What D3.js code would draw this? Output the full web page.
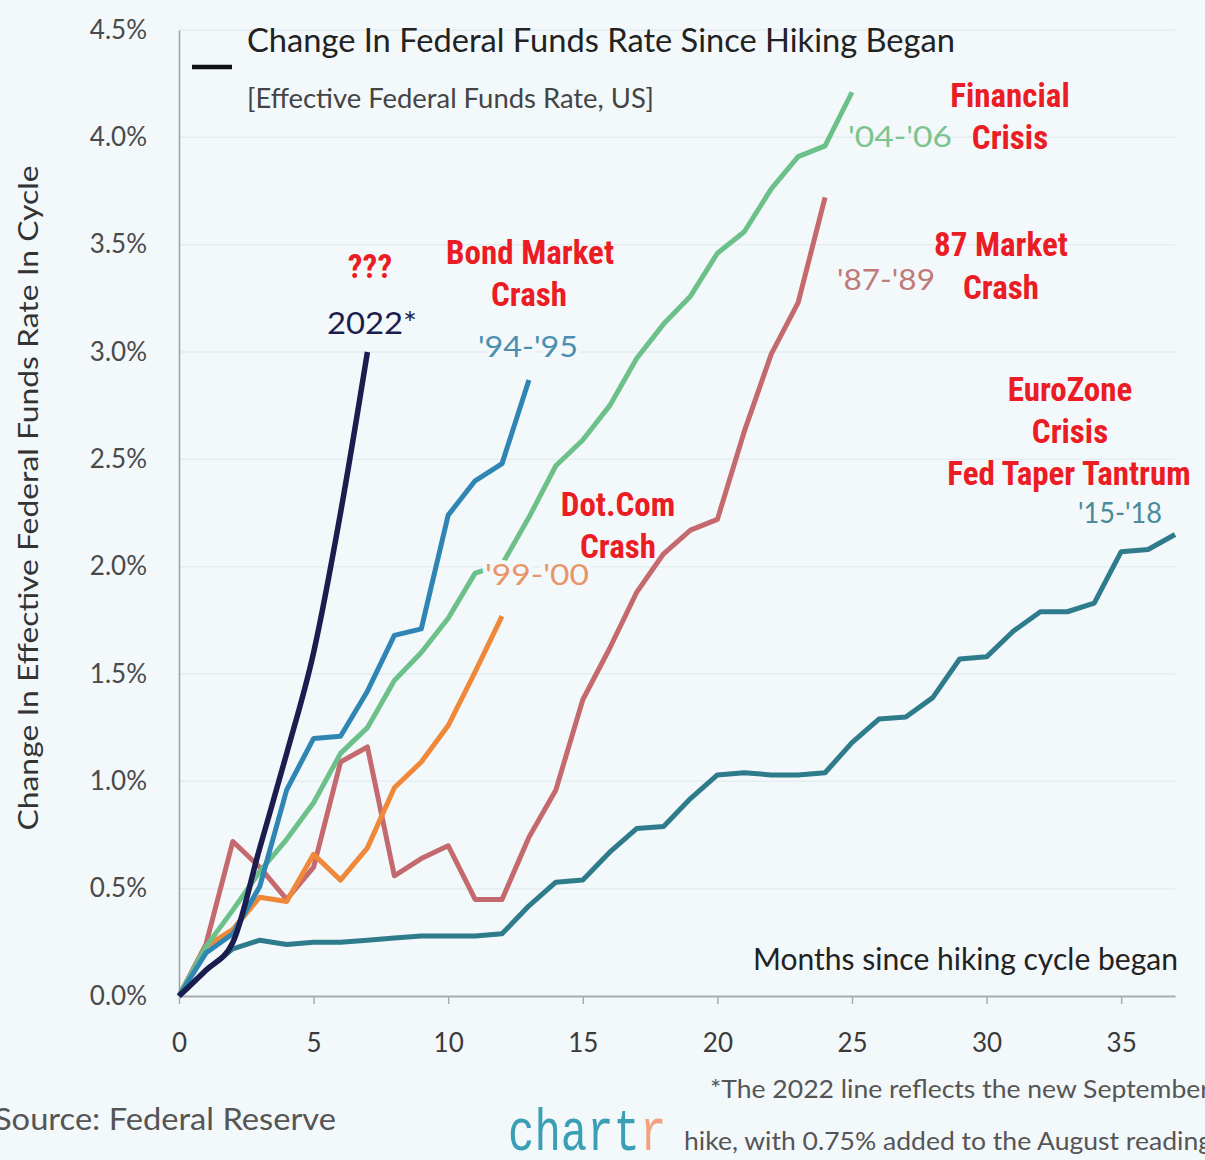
<!DOCTYPE html>
<html>
<head>
<meta charset="utf-8">
<script src="https://cdn.jsdelivr.net/npm/d3@7"></script>
<style>
  html, body { margin: 0; padding: 0; background: #f3f8fb; }
  svg { display: block; }
</style>
</head>
<body>
<svg id="chart"></svg>
<script>
// months since the first hike, 0..n
var rate2022 = [0, 0.12, 0.25, 0.69, 1.13, 1.60, 2.25, 3.00];
var rate9495 = [0, 0.20, 0.29, 0.51, 0.96, 1.20, 1.21, 1.42, 1.68, 1.71, 2.24, 2.40, 2.48, 2.87];
var rate0406 = [0, 0.23, 0.40, 0.58, 0.73, 0.90, 1.13, 1.25, 1.47, 1.60, 1.76, 1.97, 2.01,
                2.23, 2.47, 2.59, 2.75, 2.97, 3.13, 3.26, 3.46, 3.56, 3.76, 3.91, 3.96, 4.21];
var rate9900 = [0, 0.23, 0.31, 0.46, 0.44, 0.66, 0.54, 0.69, 0.97, 1.09, 1.26, 1.51, 1.77];
var rate8789 = [0, 0.24, 0.72, 0.60, 0.45, 0.60, 1.09, 1.16, 0.56, 0.64, 0.70, 0.45, 0.45,
                0.74, 0.96, 1.38, 1.62, 1.88, 2.06, 2.17, 2.22, 2.63, 2.99, 3.23, 3.72];
var rate1518 = [0, 0.12, 0.22, 0.26, 0.24, 0.25, 0.25, 0.26, 0.27, 0.28, 0.28, 0.28, 0.29,
                0.42, 0.53, 0.54, 0.67, 0.78, 0.79, 0.92, 1.03, 1.04, 1.03, 1.03, 1.04, 1.18,
                1.29, 1.30, 1.39, 1.57, 1.58, 1.70, 1.79, 1.79, 1.83, 2.07, 2.08, 2.15];

var xTicks = [0, 5, 10, 15, 20, 25, 30, 35];
var yTicks = [0, 0.5, 1, 1.5, 2, 2.5, 3, 3.5, 4, 4.5];

var width = 1205, height = 1160;
var font = "Lato, 'Open Sans', sans-serif";
var narrow = "'Liberation Sans Narrow', 'Roboto Condensed', 'Liberation Sans', sans-serif";
var red = "#ec1c24";

var svg = d3.select('#chart')
            .attr('width', width)
            .attr('height', height)
            .style('background', '#f3f8fb');

var xScale = d3.scaleLinear().domain([0, 37]).range([179, 1175]);
var yScale = d3.scaleLinear().domain([0, 4.5]).range([996, 30]);

// faint gridlines
svg.append('g')
   .selectAll('line')
   .data(yTicks.slice(1))
   .enter().append('line')
   .attr('x1', xScale(0)).attr('x2', xScale(37))
   .attr('y1', function(d){ return yScale(d); })
   .attr('y2', function(d){ return yScale(d); })
   .attr('stroke', '#e4edf2')
   .attr('stroke-width', 1.5);

// y axis
var yAxis = d3.axisLeft(yScale)
              .tickValues(yTicks)
              .tickSize(0)
              .tickPadding(32)
              .tickFormat(function(d){ return d.toFixed(1) + '%'; });

var y_axis = svg.append('g')
                .attr('transform', 'translate(' + xScale(0) + ',0)')
                .call(yAxis);
y_axis.select('.domain').attr('stroke', '#9a9fa3').attr('stroke-width', 1.5);
y_axis.selectAll('text')
      .attr('font-family', font)
      .attr('font-size', 26)
      .attr('fill', '#4a4a4a');

// x axis
var xAxis = d3.axisBottom(xScale)
              .tickValues(xTicks)
              .tickSize(8)
              .tickPadding(30)
              .tickSizeOuter(0);

var x_axis = svg.append('g')
                .attr('transform', 'translate(0,' + yScale(0) + ')')
                .call(xAxis);
x_axis.select('.domain').attr('stroke', '#a8adb0').attr('stroke-width', 2);
x_axis.selectAll('.tick line').attr('stroke', '#a8adb0').attr('stroke-width', 1.5);
x_axis.selectAll('text')
      .attr('font-family', font)
      .attr('font-size', 26)
      .attr('fill', '#3a3a3a');

// lines
var line = d3.line()
             .x(function(d, i){ return xScale(i); })
             .y(function(d){ return yScale(d); });
var smooth = d3.line()
               .curve(d3.curveMonotoneX)
               .x(function(d, i){ return xScale(i); })
               .y(function(d){ return yScale(d); });

var series = [
  { values: rate1518, color: '#2e7b8c', width: 5, gen: line },
  { values: rate8789, color: '#c46a6e', width: 5, gen: line },
  { values: rate9900, color: '#f0883a', width: 5, gen: line },
  { values: rate0406, color: '#6cc08a', width: 5, gen: line },
  { values: rate9495, color: '#2f86b3', width: 5, gen: line },
  { values: rate2022, color: '#1b1d4f', width: 5.5, gen: smooth }
];

svg.append('g')
   .selectAll('path')
   .data(series)
   .enter().append('path')
   .attr('fill', 'none')
   .attr('stroke', function(d){ return d.color; })
   .attr('stroke-width', function(d){ return d.width; })
   .attr('stroke-linejoin', 'round')
   .attr('d', function(d){ return d.gen(d.values); });

function label(x, y, txt, opts) {
  var t = svg.append('text')
             .attr('x', x).attr('y', y)
             .attr('font-family', opts.family || font)
             .attr('font-size', opts.size)
             .attr('fill', opts.color)
             .attr('text-anchor', opts.anchor || 'start')
             .attr('font-weight', opts.weight || 'normal')
             .text(txt);
  if (opts.len) t.attr('textLength', opts.len).attr('lengthAdjust', 'spacingAndGlyphs');
  if (opts.halo) t.attr('stroke', '#f3f8fb').attr('stroke-width', 8).attr('paint-order', 'stroke');
  return t;
}

// title block
svg.append('line')
   .attr('x1', 192).attr('x2', 232).attr('y1', 67).attr('y2', 67)
   .attr('stroke', '#111').attr('stroke-width', 4.5);
label(247, 52, 'Change In Federal Funds Rate Since Hiking Began', { size: 32, color: '#222', len: 708 });
label(247, 108, '[Effective Federal Funds Rate, US]', { size: 27, color: '#444', len: 407 });

// y axis title
label(0, 0, 'Change In Effective Federal Funds Rate In Cycle', { size: 27, color: '#333', anchor: 'middle', len: 665 })
  .attr('transform', 'translate(38,498) rotate(-90)');

// series labels
label(372, 334, '2022*', { size: 30, color: '#1b1d4f', anchor: 'middle', len: 90 });
label(528, 357, "'94-'95", { size: 29, color: '#4a8fb0', anchor: 'middle', len: 100, halo: true });
label(848, 147, "'04-'06", { size: 29, color: '#7cc48f', len: 104 });
label(837, 290, "'87-'89", { size: 29, color: '#c07a78', len: 98 });
label(485, 585, "'99-'00", { size: 29, color: '#e8956a', len: 104, halo: true });
label(1120, 523, "'15-'18", { size: 29, color: '#4a8a99', anchor: 'middle', len: 84 });

// red annotations
var ann = { size: 33, color: red, anchor: 'middle', weight: 'bold', family: narrow };
label(370, 278, '???', ann);
label(530, 264, 'Bond Market', ann);
label(529, 306, 'Crash', ann);
label(1010, 107, 'Financial', ann);
label(1010, 149, 'Crisis', ann);
label(1001, 256, '87 Market', ann);
label(1001, 299, 'Crash', ann);
label(1070, 401, 'EuroZone', ann);
label(1070, 443, 'Crisis', ann);
label(1069, 485, 'Fed Taper Tantrum', ann);
label(618, 516, 'Dot.Com', ann);
label(618, 558, 'Crash', ann);

// x axis title
label(1178, 970, 'Months since hiking cycle began', { size: 30, color: '#222', anchor: 'end', len: 425 });

// footer
label(-6, 1130, 'Source: Federal Reserve', { size: 31, color: '#555', len: 342 });
var logo = svg.append('text')
              .attr('transform', 'translate(508,1150) scale(1,1.35)')
              .attr('font-family', "'Liberation Mono', 'DejaVu Sans Mono', monospace")
              .attr('font-size', 44);
logo.append('tspan').attr('fill', '#3a9fb5').text('chart');
logo.append('tspan').attr('fill', '#f2a27e').text('r');
label(710, 1098, '*The 2022 line reflects the new September', { size: 25, color: '#555', len: 500 });
label(684, 1150, 'hike, with 0.75% added to the August reading', { size: 25, color: '#555', len: 528 });
</script>
</body>
</html>
